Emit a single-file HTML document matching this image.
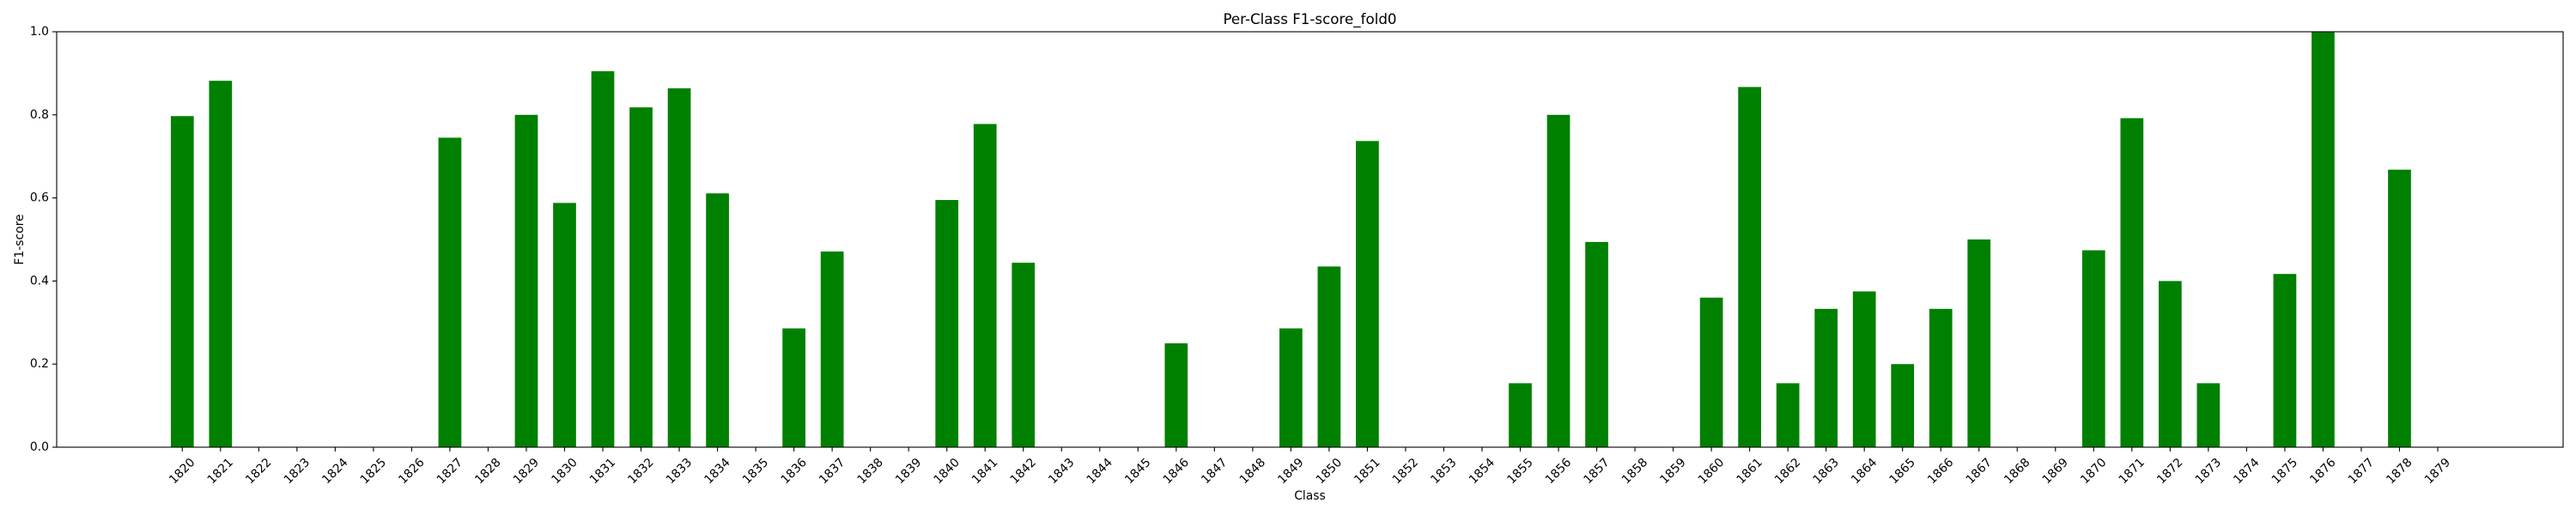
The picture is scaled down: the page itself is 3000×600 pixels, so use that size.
<!DOCTYPE html>
<html><head><meta charset="utf-8"><style>
html,body{margin:0;padding:0;background:#fff;}
svg{display:block;font-family:"DejaVu Sans","Liberation Sans",sans-serif;}
</style></head><body>
<svg id="chart" width="3000" height="600" viewBox="0 0 3000 600">
<rect x="0" y="0" width="3000" height="600" fill="#fff"/>
<text x="1525.5" y="28" font-size="16.7" text-anchor="middle">Per-Class F1-score_fold0</text>
<g id="bars"></g>
<g id="xticks"></g>
<g id="yticks"></g>
<rect x="66" y="37" width="2919" height="484" fill="none" stroke="#000" stroke-width="1.1"/>
<text x="1525.5" y="582" font-size="13.9" text-anchor="middle">Class</text>
<text x="0" y="0" font-size="13.9" text-anchor="middle" transform="translate(27,279) rotate(-90)">F1-score</text>
</svg>
<script>
const categories = [];
for (let c = 1820; c <= 1879; c++) categories.push(String(c));
const f1Values = [
0.797,0.882,0,0,0,0,0,0.745,0,0.80,
0.588,0.905,0.818,0.864,0.611,0,0.286,0.471,0,0,
0.595,0.778,0.444,0,0,0,0.25,0,0,0.286,
0.435,0.737,0,0,0,0.154,0.80,0.494,0,0,
0.36,0.867,0.154,0.333,0.375,0.2,0.333,0.5,0,0,
0.474,0.792,0.4,0.154,0,0.417,1.0,0,0.668,0
];
const yTickLabels = ["0.0","0.2","0.4","0.6","0.8","1.0"];
const yTickValues = [0,0.2,0.4,0.6,0.8,1.0];

const NS = "http://www.w3.org/2000/svg";
const x0 = 212.3, step = 44.52, barW = step*0.6;
const yTop = 37, yBot = 521;
function xScale(i){ return x0 + i*step; }
function yScale(v){ return yBot - v*(yBot-yTop); }

const bars = document.getElementById('bars');
f1Values.forEach((v,i)=>{
  if (v <= 0) return;
  const r = document.createElementNS(NS,'rect');
  r.setAttribute('x', xScale(i)-barW/2);
  r.setAttribute('y', yScale(v));
  r.setAttribute('width', barW);
  r.setAttribute('height', yScale(0)-yScale(v));
  r.setAttribute('fill', '#008000');
  
  
  bars.appendChild(r);
});

const xt = document.getElementById('xticks');
categories.forEach((c,i)=>{
  const x = xScale(i);
  const l = document.createElementNS(NS,'line');
  l.setAttribute('x1',x); l.setAttribute('x2',x);
  l.setAttribute('y1',yBot); l.setAttribute('y2',yBot+5);
  l.setAttribute('stroke','#000'); l.setAttribute('stroke-width','1.1');
  
  
  xt.appendChild(l);
  const t = document.createElementNS(NS,'text');
  t.setAttribute('x',0); t.setAttribute('y',0);
  t.setAttribute('font-size','13.9');
  t.setAttribute('text-anchor','middle');
  t.setAttribute('dominant-baseline','central');
  t.setAttribute('transform','translate('+x+',549) rotate(-45)');
  t.textContent = c;
  
  
  xt.appendChild(t);
});

const yt = document.getElementById('yticks');
yTickValues.forEach((v,i)=>{
  const y = yScale(v);
  const l = document.createElementNS(NS,'line');
  l.setAttribute('x1',61); l.setAttribute('x2',66);
  l.setAttribute('y1',y); l.setAttribute('y2',y);
  l.setAttribute('stroke','#000'); l.setAttribute('stroke-width','1.1');
  
  
  yt.appendChild(l);
  const t = document.createElementNS(NS,'text');
  t.setAttribute('x',57); t.setAttribute('y',y);
  t.setAttribute('font-size','13.9');
  t.setAttribute('text-anchor','end');
  t.setAttribute('dominant-baseline','central');
  t.textContent = yTickLabels[i];
  
  
  yt.appendChild(t);
});
</script>
</body></html>
